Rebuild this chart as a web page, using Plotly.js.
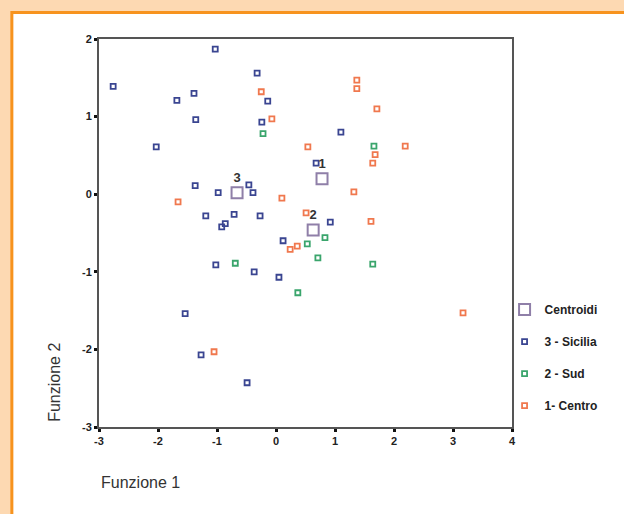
<!DOCTYPE html>
<html>
<head>
<meta charset="utf-8">
<script src="https://cdn.plot.ly/plotly-3.0.1.min.js"></script>
<style>html,body{margin:0;padding:0;background:#fdd9b2;}#chart{width:624px;height:514px;}</style>
</head>
<body>
<div id="chart"></div>
<script>
// Funzione 1 (x) and Funzione 2 (y) scores per group
const siciliaX = [-1.03,-2.76,-0.32,-1.68,-1.39,-0.14,-1.36,-2.03,-1.37,-0.46,-0.39,-0.98,-1.19,-0.71,-0.27,-0.92,-0.86,0.68,1.10,0.92,0.12,-1.02,-0.37,0.05,-1.54,-1.27,-0.49,-0.24];
const siciliaY = [1.87,1.39,1.56,1.21,1.30,1.20,0.96,0.61,0.11,0.12,0.02,0.02,-0.28,-0.26,-0.28,-0.42,-0.38,0.40,0.80,-0.36,-0.60,-0.91,-1.00,-1.07,-1.54,-2.07,-2.43,0.93];
const sudX = [-0.22,1.66,0.83,0.53,0.71,-0.69,1.64,0.37];
const sudY = [0.78,0.62,-0.56,-0.64,-0.82,-0.89,-0.90,-1.27];
const centroX = [-0.25,-0.07,-1.66,0.10,0.51,1.32,1.37,1.37,1.71,0.54,2.19,1.68,1.64,1.61,0.24,0.36,-1.05,3.17];
const centroY = [1.32,0.97,-0.10,-0.05,-0.24,0.03,1.47,1.36,1.10,0.61,0.62,0.51,0.40,-0.35,-0.71,-0.67,-2.03,-1.53];
const centroidX = [0.78,0.63,-0.66];
const centroidY = [0.20,-0.46,0.02];
const centroidLabels = ['1','2','3'];
const xTicks = [-3,-2,-1,0,1,2,3,4];
const yTicks = [-3,-2,-1,0,1,2];
const legendNames = ['Centroidi','3 - Sicilia','2 - Sud','1- Centro'];

const ptMarker = (c) => ({symbol:'square-open', size:5, color:c, line:{width:1.8, color:c}});

const traces = [
  {x:siciliaX, y:siciliaY, type:'scatter', mode:'markers', name:legendNames[1], legendgroup:'b', legendrank:2, marker:ptMarker('#3a4591')},
  {x:sudX, y:sudY, type:'scatter', mode:'markers', name:legendNames[2], legendgroup:'c', legendrank:3, marker:ptMarker('#3aa56c')},
  {x:centroX, y:centroY, type:'scatter', mode:'markers', name:legendNames[3], legendgroup:'d', legendrank:4, marker:ptMarker('#f0784e')},
  {x:centroidX, y:centroidY, type:'scatter', mode:'markers+text', name:legendNames[0], legendgroup:'a', legendrank:1,
   text:centroidLabels, textposition:'top center', textfont:{family:'Arial, Liberation Sans', size:13, color:'#333', weight:'bold'},
   marker:{symbol:'square-open', size:11, color:'#8f7fa8', line:{width:2, color:'#8f7fa8'}}}
];

const axisCommon = {
  showgrid:false, zeroline:false, showline:true, linecolor:'#555', linewidth:2, mirror:true,
  ticks:'outside', ticklen:3, tickwidth:3, tickcolor:'#111',
  tickfont:{family:'Arial, Liberation Sans', size:11, color:'#222', weight:'bold'},
  fixedrange:true
};

const layout = {
  width:624, height:514,
  margin:{l:99, r:112, t:39, b:87},
  paper_bgcolor:'#fdd9b2',
  plot_bgcolor:'#ffffff',
  showlegend:true,
  xaxis:Object.assign({}, axisCommon, {range:[-3,4], tickvals:xTicks, ticktext:xTicks.map(String)}),
  yaxis:Object.assign({}, axisCommon, {range:[-3,2], tickvals:yTicks, ticktext:yTicks.map(String)}),
  legend:{x:0.982, y:0.340, xanchor:'left', yanchor:'top', bgcolor:'rgba(0,0,0,0)',
    traceorder:'grouped', tracegroupgap:13,
    font:{family:'Arial, Liberation Sans', size:12, color:'#222', weight:'bold'}},
  shapes:[
    {type:'rect', xref:'paper', yref:'paper', x0:-0.211, x1:1.5, y0:-0.4, y1:1.068, layer:'below',
     fillcolor:'#ffffff', line:{color:'#f7931e', width:3}}
  ],
  annotations:[
    {text:'Funzione 1', xref:'paper', yref:'paper', x:0.0, y:-0.144, xanchor:'left', yanchor:'middle', showarrow:false,
     font:{family:'Arial, Liberation Sans', size:16, color:'#333'}},
    {text:'Funzione 2', xref:'paper', yref:'paper', x:-0.107, y:0.116, xanchor:'center', yanchor:'middle', textangle:-90, showarrow:false,
     font:{family:'Arial, Liberation Sans', size:16, color:'#333'}}
  ]
};

Plotly.newPlot('chart', traces, layout, {displayModeBar:false, staticPlot:true});
</script>
</body>
</html>
